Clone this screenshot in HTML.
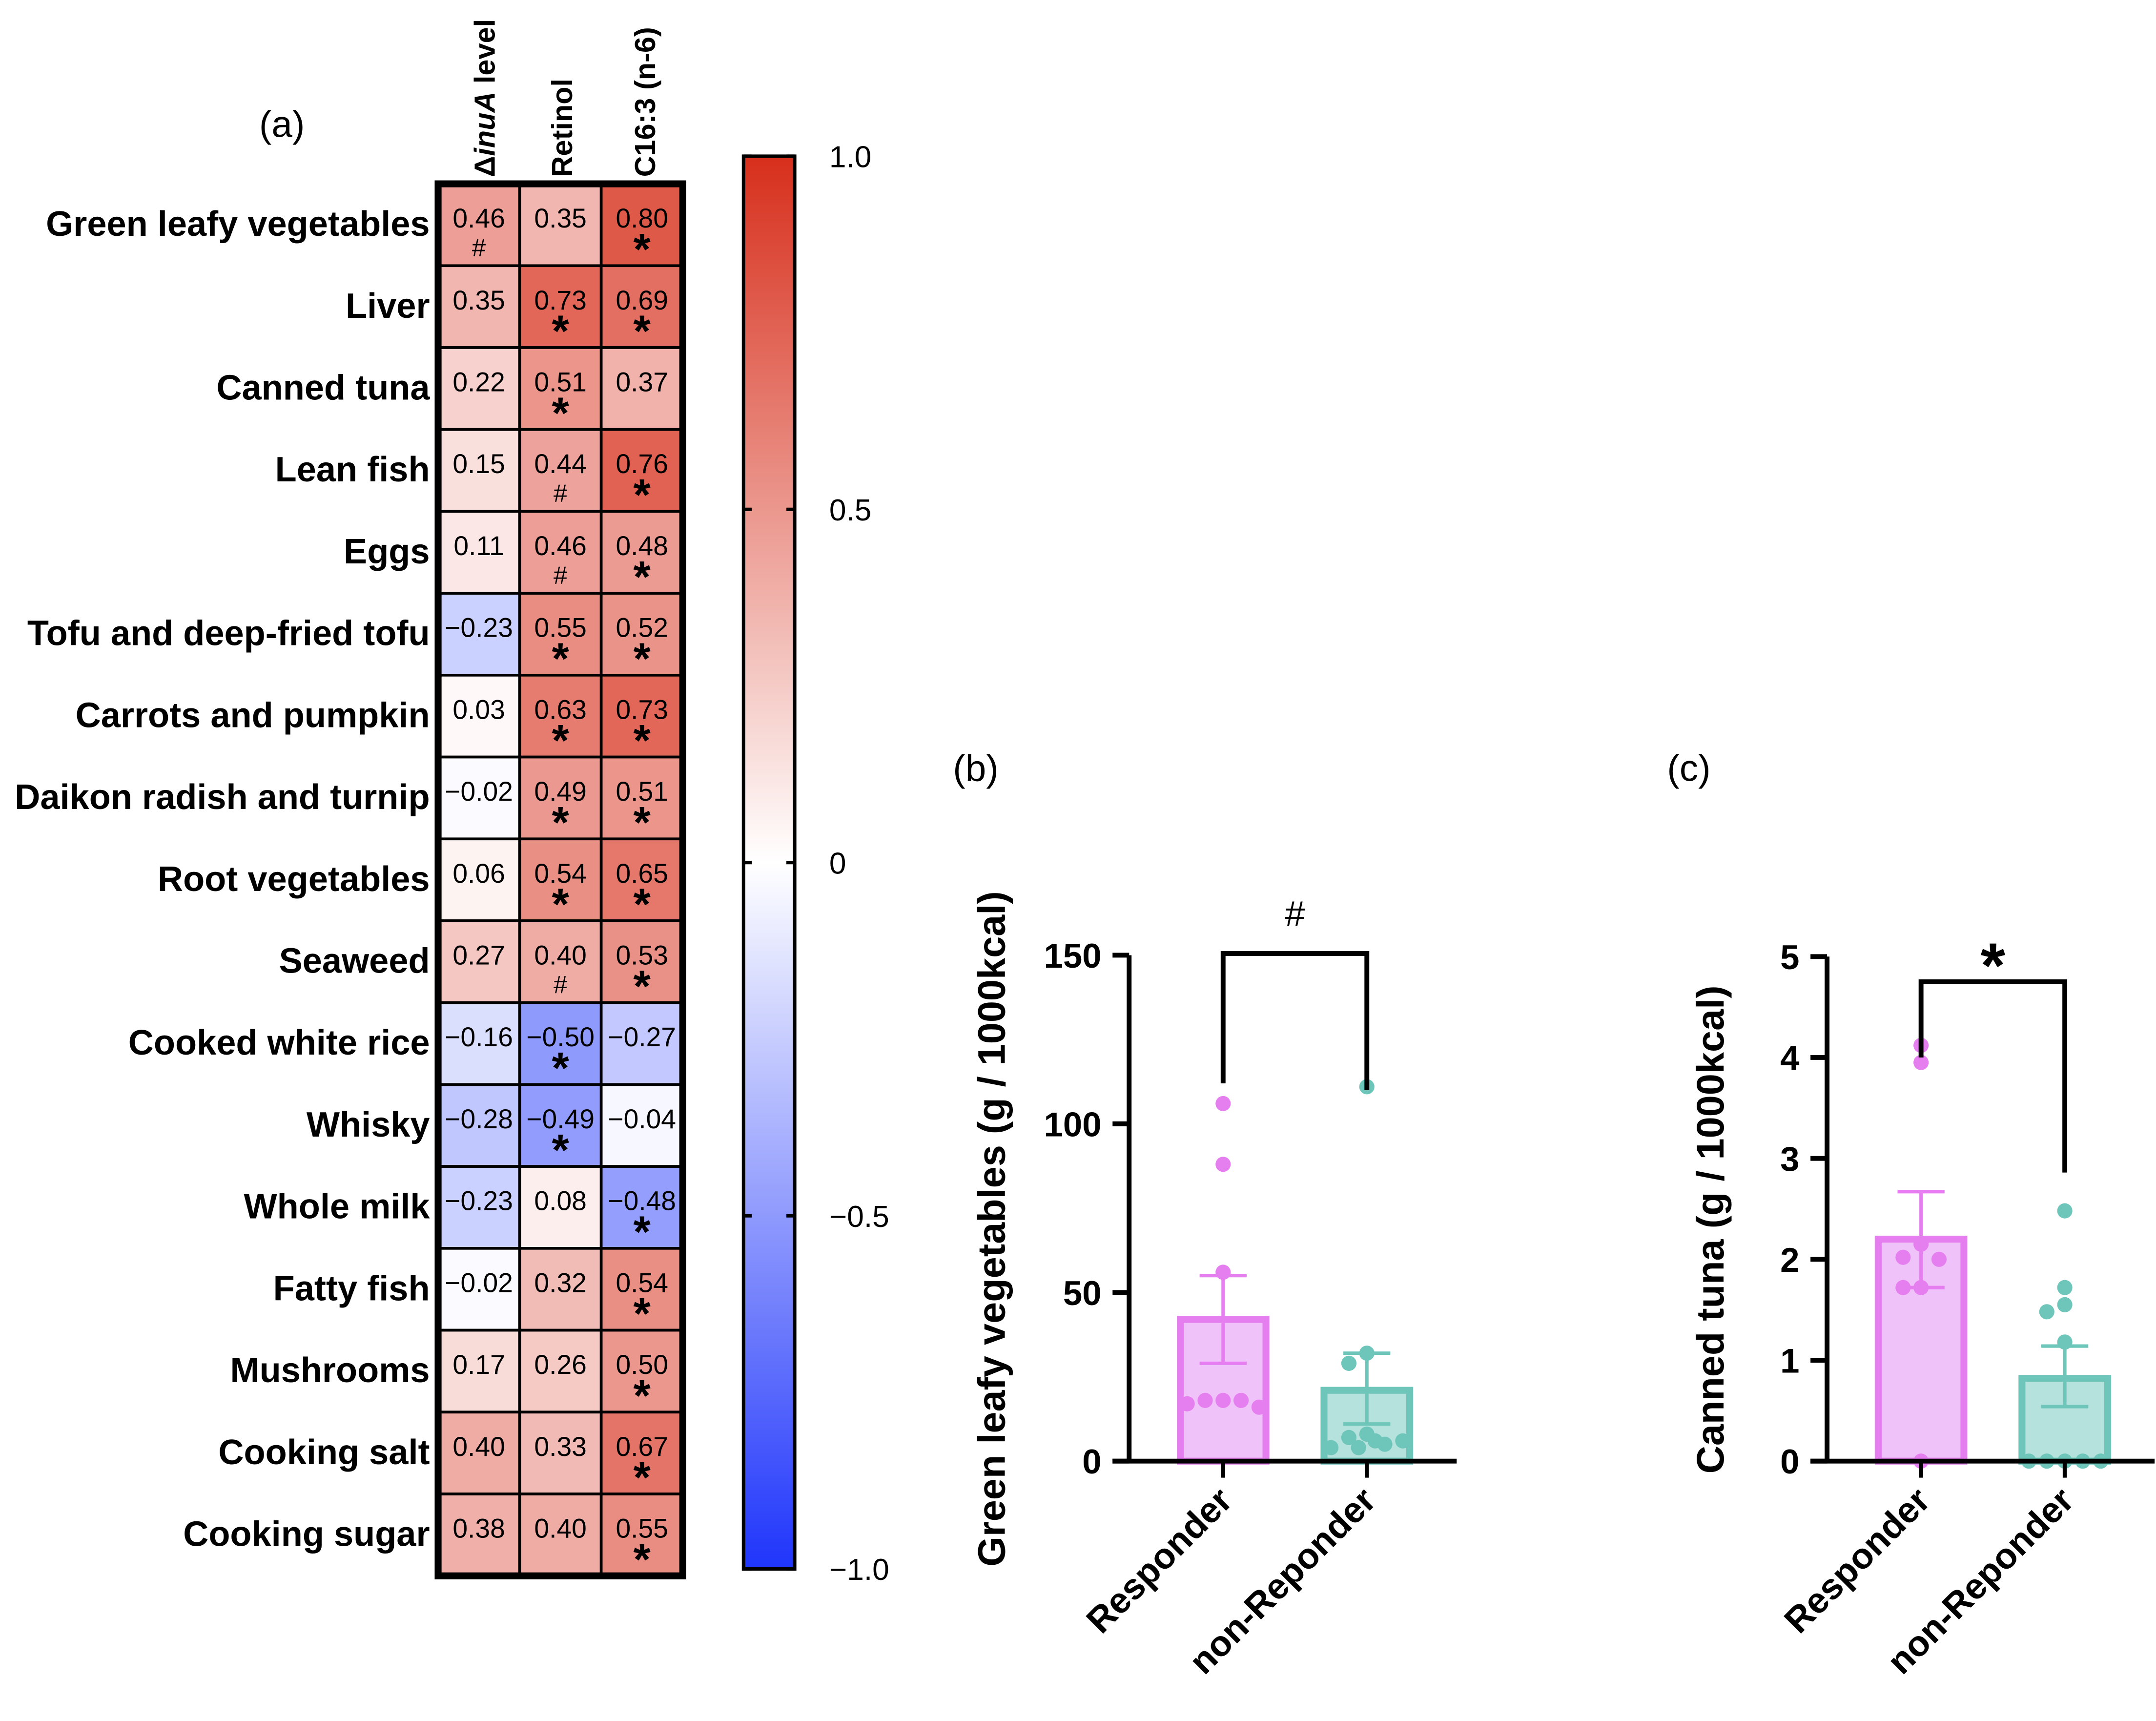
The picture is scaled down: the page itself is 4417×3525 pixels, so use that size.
<!DOCTYPE html>
<html><head><meta charset="utf-8">
<style>
html,body{margin:0;padding:0;background:#fff;}
svg{display:block;}
text{font-family:"Liberation Sans",sans-serif;}
</style></head>
<body>
<svg id="fig" xmlns="http://www.w3.org/2000/svg" width="4417" height="3525" viewBox="0 0 1560 1245" preserveAspectRatio="none">
<defs>
<linearGradient id="cbar" x1="0" y1="0" x2="0" y2="1">
<stop offset="0" stop-color="#d72f1c"/><stop offset="0.5" stop-color="#ffffff"/><stop offset="1" stop-color="#1f35fb"/>
</linearGradient>
</defs>
<g id="heat"></g>
<g id="pb"></g>
<g id="pc"></g>
</svg>
<script>
const rowLabels = ["Green leafy vegetables","Liver","Canned tuna","Lean fish","Eggs","Tofu and deep-fried tofu","Carrots and pumpkin","Daikon radish and turnip","Root vegetables","Seaweed","Cooked white rice","Whisky","Whole milk","Fatty fish","Mushrooms","Cooking salt","Cooking sugar"];
const colInuA = [0.46,0.35,0.22,0.15,0.11,-0.23,0.03,-0.02,0.06,0.27,-0.16,-0.28,-0.23,-0.02,0.17,0.40,0.38];
const colRetinol = [0.35,0.73,0.51,0.44,0.46,0.55,0.63,0.49,0.54,0.40,-0.50,-0.49,0.08,0.32,0.26,0.33,0.40];
const colC163 = [0.80,0.69,0.37,0.76,0.48,0.52,0.73,0.51,0.65,0.53,-0.27,-0.04,-0.48,0.54,0.50,0.67,0.55];
const sigInuA = ["#","","","","","","","","","","","","","","","",""];
const sigRetinol = ["","*","*","#","#","*","*","*","*","#","*","*","","","","",""];
const sigC163 = ["*","*","","*","*","*","*","*","*","*","","","*","*","*","*","*"];
const colorbarTicks = [1.0,0.5,0,-0.5,-1.0];
const colorbarTickLabels = ["1.0","0.5","0","\u22120.5","\u22121.0"];

const groups = ["Responder","non-Reponder"];
const greenMeans = [42,21];
const greenErrLo = [29,11];
const greenErrHi = [55,32];
const greenPtsR = [106,88,56,18,18,18,17,16];
const greenPtsN = [111,32,29,8,7,5,4,6,4,6];
const greenTicks = [0,50,100,150];
const tunaMeans = [2.2,0.82];
const tunaErrLo = [1.72,0.54];
const tunaErrHi = [2.67,1.14];
const tunaPtsR = [4.12,3.95,2.15,2.02,2.0,1.72,1.72,0];
const tunaPtsN = [2.48,1.72,1.55,1.48,1.18,0,0,0,0,0];
const tunaTicks = [0,1,2,3,4,5];

const NS="http://www.w3.org/2000/svg";
function mk(parent,tag,attrs,txt){const e=document.createElementNS(NS,tag);for(const k in attrs)e.setAttribute(k,attrs[k]);if(txt!==undefined)e.textContent=txt;parent.appendChild(e);return e;}
function lerp(a,b,t){return Math.round(a+(b-a)*t);}
function heatColor(v){
  if(v>=0){return `rgb(${lerp(255,215,v)},${lerp(255,47,v)},${lerp(255,28,v)})`;}
  const t=-v;return `rgb(${lerp(255,31,t)},${lerp(255,53,t)},${lerp(255,251,t)})`;
}
function fmt(v){const s=Math.abs(v).toFixed(2);return (v<0?"\u2212":"")+s;}

// ---------- heatmap ----------
const H=document.getElementById('heat');
const hx0=317,hy0=133,cw=59,rh=(1140-133)/17;
const cols=[colInuA,colRetinol,colC163], sigs=[sigInuA,sigRetinol,sigC163];
const colNames=["inua","retinol","c163"];
rowLabels.forEach((lab,r)=>{
  const t=mk(H,'text',{x:311,y:hy0+rh*r+rh/2+8,'text-anchor':'end','font-size':25.5,'font-weight':'bold'},lab);
  
  
  cols.forEach((col,c)=>{
    const x=hx0+cw*c,y=hy0+rh*r;
    const rc=mk(H,'rect',{x:x,y:y,width:cw,height:rh,fill:heatColor(col[r]),stroke:'#000','stroke-width':2});
    
    
    const vt=mk(H,'text',{x:x+cw/2,y:y+rh/2+2,'text-anchor':'middle','font-size':19.5},fmt(col[r]));
    
    
    const s=sigs[c][r];
    if(s){
      const st=mk(H,'text',{x:x+cw/2,y:s==='*'?y+rh-1:y+rh-7,'text-anchor':'middle','font-size':s==='*'?32:18,'font-weight':s==='*'?'bold':'normal'},s);
      
      
    }
  });
});
const hb=mk(H,'rect',{x:hx0,y:hy0,width:cw*3,height:rh*17,fill:'none',stroke:'#000','stroke-width':5});


const colHeads=[[350,'inua'],[406,'Retinol'],[466,'C16:3 (n-6)']];
colHeads.forEach(([cx,lab],i)=>{
  const t=mk(H,'text',{transform:`translate(${cx+8},128) rotate(-90)`,'font-size':21,'font-weight':'bold'});
  
  
  if(lab==='inua'){mk(t,'tspan',{},'\u0394');mk(t,'tspan',{'font-style':'italic'},'inuA');mk(t,'tspan',{},' level');}
  else t.textContent=lab;
});
const la=mk(H,'text',{x:204,y:99,'text-anchor':'middle','font-size':27},'(a)');


// colorbar
const cbTop=113,cbBot=1135,cbx=538,cbw=37;
function cbY(v){return cbTop+(1-v)/2*(cbBot-cbTop);}
const cb=mk(H,'rect',{x:cbx,y:cbTop,width:cbw,height:cbBot-cbTop,fill:'url(#cbar)',stroke:'#000','stroke-width':2.5});


colorbarTicks.forEach((v,i)=>{
  const y=cbY(v);
  mk(H,'line',{x1:cbx,x2:cbx+6,y1:y,y2:y,stroke:'#000','stroke-width':2.5});
  mk(H,'line',{x1:cbx+cbw-6,x2:cbx+cbw,y1:y,y2:y,stroke:'#000','stroke-width':2.5});
  const t=mk(H,'text',{x:600,y:y+8,'font-size':22},colorbarTickLabels[i]);
  
  
});

// ---------- bar charts ----------
function barChart(G,o){
  const y=v=>o.y0-(v/o.max)*(o.y0-o.yTop);
  const xs=[o.ax+68,o.ax+172];
  const colors=[{fill:'#f0c2fa',stroke:'#e57ff0',pt:'#e57ff0'},{fill:'#b5e2dc',stroke:'#6ec6ba',pt:'#6ec6ba'}];
  const means=o.means, lo=o.lo, hi=o.hi, pts=[o.ptsR,o.ptsN];
  const jit=[0,-13,13,-26,26,-6,6,-19,19,0];
  means.forEach((m,i)=>{
    const b=mk(G,'rect',{x:xs[i]-31,y:y(m),width:62,height:o.y0-y(m),fill:colors[i].fill,stroke:colors[i].stroke,'stroke-width':5});
    
    
    // jitter points that sit close to neighbours
    pts[i].forEach((p,k)=>{
      let cnt=0;
      for(let j=0;j<k;j++){ if(Math.abs(y(pts[i][j])-y(p))<12) cnt++; }
      let near=0; pts[i].forEach(q=>{ if(Math.abs(y(q)-y(p))<12) near++; });
      const off = near>1 ? jit[cnt % jit.length] : 0;
      const c=mk(G,'circle',{cx:xs[i]+off,cy:y(p),r:5.5,fill:colors[i].pt});
      
      
    });
    const e=mk(G,'path',{d:`M${xs[i]},${y(lo[i])}V${y(hi[i])}M${xs[i]-17},${y(hi[i])}H${xs[i]+17}M${xs[i]-17},${y(lo[i])}H${xs[i]+17}`,stroke:colors[i].stroke,'stroke-width':2.5,fill:'none'});
    
    
    mk(G,'line',{x1:xs[i],x2:xs[i],y1:o.y0,y2:o.y0+12,stroke:'#000','stroke-width':3});
    const t=mk(G,'text',{transform:`translate(${xs[i]+8},${o.y0+30}) rotate(-45)`,'text-anchor':'end','font-size':26,'font-weight':'bold'},groups[i]);
    
    
  });
  const ax=mk(G,'path',{d:`M${o.ax},${o.yTop}V${o.y0}M${o.ax-12},${o.y0}H${o.ax+237}`,stroke:'#000','stroke-width':3.5,fill:'none'});
  
  
  o.ticks.forEach(v=>{
    mk(G,'line',{x1:o.ax-12,x2:o.ax,y1:y(v),y2:y(v),stroke:'#000','stroke-width':3.5});
    const t=mk(G,'text',{x:o.ax-20,y:y(v)+9,'text-anchor':'end','font-size':25,'font-weight':'bold'},String(v));
    
    
  });
  const yl=mk(G,'text',{transform:`translate(${o.labX},${(o.y0+o.yTop)/2+15+o.labShift}) rotate(-90)`,'text-anchor':'middle','font-size':28,'font-weight':'bold'},o.ylabel);
  
  
  const br=mk(G,'path',{d:`M${xs[0]},${y(o.brL)}V${y(o.brTop)}H${xs[1]}V${y(o.brR)}`,stroke:'#000','stroke-width':3.5,fill:'none'});
  
  
  const sm=mk(G,'text',{x:(xs[0]+xs[1])/2,y:y(o.brTop)+o.markDy,'text-anchor':'middle','font-size':o.markSize,'font-weight':o.markW},o.mark);
  
  
  const pl=mk(G,'text',{x:o.plX,y:565,'text-anchor':'middle','font-size':27},o.panel);
  
  
}
barChart(document.getElementById('pb'),{ax:817,y0:1057,yTop:691,max:150,means:greenMeans,lo:greenErrLo,hi:greenErrHi,ptsR:greenPtsR,ptsN:greenPtsN,ticks:greenTicks,ylabel:'Green leafy vegetables (g / 1000kcal)',labX:727,labShift:0,brL:112,brR:110,brTop:150.5,mark:'#',markDy:-20,markSize:26,markW:'normal',panel:'(b)',plX:706});
barChart(document.getElementById('pc'),{ax:1322,y0:1057,yTop:692,max:5,means:tunaMeans,lo:tunaErrLo,hi:tunaErrHi,ptsR:tunaPtsR,ptsN:tunaPtsN,ticks:tunaTicks,ylabel:'Canned tuna (g / 1000kcal)',labX:1247,labShift:0,brL:4.0,brR:2.86,brTop:4.75,mark:'*',markDy:4,markSize:46,markW:'bold',panel:'(c)',plX:1222});
</script>
</body></html>
